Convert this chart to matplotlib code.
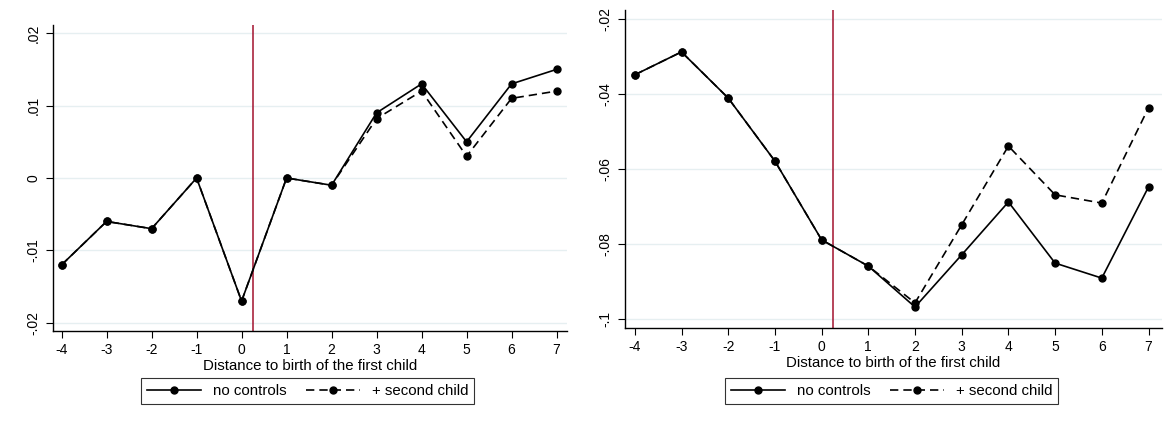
import numpy as np
from matplotlib import pyplot as plt

plt.rcParams['font.family'] = ['Liberation Sans', 'DejaVu Sans']

# event time
dist = [-4, -3, -2, -1, 0, 1, 2, 3, 4, 5, 6, 7]

# left panel
leftNoControls = [-0.012, -0.006, -0.007, 0.0, -0.017, 0.0, -0.001,
                  0.009, 0.013, 0.005, 0.013, 0.015]
leftSecondChild = [-0.012, -0.006, -0.007, 0.0, -0.017, 0.0, -0.001,
                   0.0082, 0.012, 0.003, 0.011, 0.012]
leftTicks = [-0.02, -0.01, 0.0, 0.01, 0.02]
leftTickLabels = ['-.02', '-.01', '0', '.01', '.02']

# right panel
rightNoControls = [-0.0349, -0.0288, -0.0411, -0.0579, -0.0789, -0.0859,
                   -0.0968, -0.0829, -0.0688, -0.0851, -0.0891, -0.0648]
rightSecondChild = [-0.0349, -0.0288, -0.0411, -0.0579, -0.0789, -0.0859,
                    -0.0957, -0.0749, -0.0539, -0.0669, -0.0691, -0.0437]
rightTicks = [-0.1, -0.08, -0.06, -0.04, -0.02]
rightTickLabels = ['-.1', '-.08', '-.06', '-.04', '-.02']

seriesLabels = ['no controls', '+ second child']
xLabel = 'Distance to birth of the first child'


def drawPanel(fig, ax, y1, y2, yticks, ylabels, xlim, ylim, legX):
  ax.axvline(0.25, color='#A3122E', lw=1.1, zorder=1)
  ax.plot(dist, y1, '-', color='black', lw=1.2, marker='o', ms=5,
          label=seriesLabels[0], zorder=3)
  ax.plot(dist, y2, '--', color='black', lw=1.2, marker='o', ms=5,
          dashes=(5, 3), label=seriesLabels[1], zorder=2)
  ax.set_xlim(xlim)
  ax.set_ylim(ylim)
  ax.set_xticks(dist)
  ax.set_xticklabels([str(d) for d in dist], fontsize=10)
  ax.set_yticks(yticks)
  ax.set_yticklabels(ylabels, fontsize=10, rotation=90, va='center')
  ax.grid(axis='y', color='#E6EFF1', lw=1)
  ax.set_axisbelow(True)
  for s in ['top', 'right']:
    ax.spines[s].set_visible(False)
  for s in ['left', 'bottom']:
    ax.spines[s].set_linewidth(1.0)
  ax.tick_params(direction='out', length=5, width=0.8, pad=4)
  ax.set_xlabel(xLabel, fontsize=10.8, labelpad=1)
  h, l = ax.get_legend_handles_labels()
  leg = fig.legend(h, l, loc='upper center', bbox_to_anchor=(legX, 0.1064),
                   ncol=2, frameon=True, fancybox=False, fontsize=10.8,
                   handlelength=3.6, columnspacing=1.3, borderpad=0.4,
                   handletextpad=0.8, borderaxespad=0)
  leg.get_frame().set_edgecolor('black')
  leg.get_frame().set_linewidth(0.8)


fig = plt.figure(figsize=(11.68, 4.23), dpi=100)
axL = fig.add_axes([0.0454, 0.2175, 0.440, 0.7234])
axR = fig.add_axes([0.5351, 0.2246, 0.4598, 0.752])

drawPanel(fig, axL, leftNoControls, leftSecondChild, leftTicks, leftTickLabels,
          (-4.19, 7.23), (-0.02113, 0.02113), 0.2633)
drawPanel(fig, axR, rightNoControls, rightSecondChild, rightTicks,
          rightTickLabels, (-4.21, 7.29), (-0.1024, -0.0176), 0.7633)

fig.savefig('out.png', dpi=100)
